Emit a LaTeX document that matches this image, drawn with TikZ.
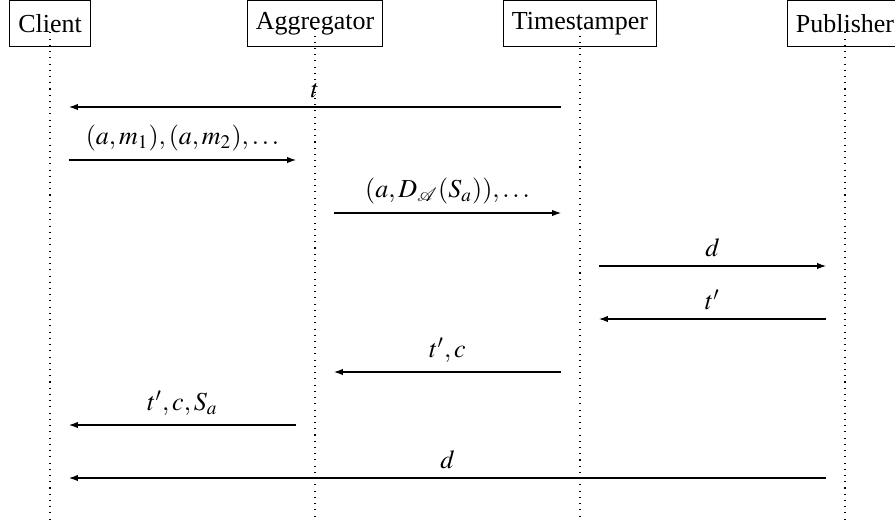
\documentclass[tikz,border=0pt]{standalone}
\usepackage{amsmath, amssymb}
\usepackage{mathptmx}
\usepackage{fontspec}
\setmainfont{Liberation Serif}
\usepackage{tikz}
\usetikzlibrary{arrows.meta, positioning, calc}

\begin{document}
\begin{tikzpicture}[x=0.385pt, y=-0.385pt,
		actor/.style={draw, minimum height=17.6pt, inner xsep=3.4pt},
		life/.style={dotted},
		msg/.style={-{Latex[length=3.4pt, width=2.4pt]}, shorten <=7.3pt, shorten >=7.3pt}]
	\useasboundingbox (0,0) rectangle (895,520);
	% parties
	\node[actor] (cli) at (50,23.5) {Client};
	\node[actor] (agg) at (315,23.5) {Aggregator};
	\node[actor] (tsp) at (580,23.5) {Timestamper};
	\node[actor] (pub) at (845,23.5) {Publisher};
	% lifelines
	\coordinate (bot) at (0,520);
	\foreach \p in {cli, agg, tsp, pub}
		\draw[life] (\p.base) -- (\p |- bot);
	% message rows
	\foreach \i/\y in {1/107, 2/160, 3/213, 4/266, 5/319, 6/372, 7/425, 8/478}
		\coordinate (r\i) at (0,\y);
	\draw[msg] (tsp |- r1) -- node[above] {$t$} (cli |- r1);
	\draw[msg] (cli |- r2) -- node[above] {$(a,m_1),(a,m_2),\ldots$} (agg |- r2);
	\draw[msg] (agg |- r3) -- node[above] {$(a,D_{\mathcal{A}}(S_a)),\ldots$} (tsp |- r3);
	\draw[msg] (tsp |- r4) -- node[above] {$d$} (pub |- r4);
	\draw[msg] (pub |- r5) -- node[above] {$t'$} (tsp |- r5);
	\draw[msg] (tsp |- r6) -- node[above] {$t',c$} (agg |- r6);
	\draw[msg] (agg |- r7) -- node[above] {$t',c,S_a$} (cli |- r7);
	\draw[msg] (pub |- r8) -- node[above] {$d$} (cli |- r8);
\end{tikzpicture}
\end{document}
